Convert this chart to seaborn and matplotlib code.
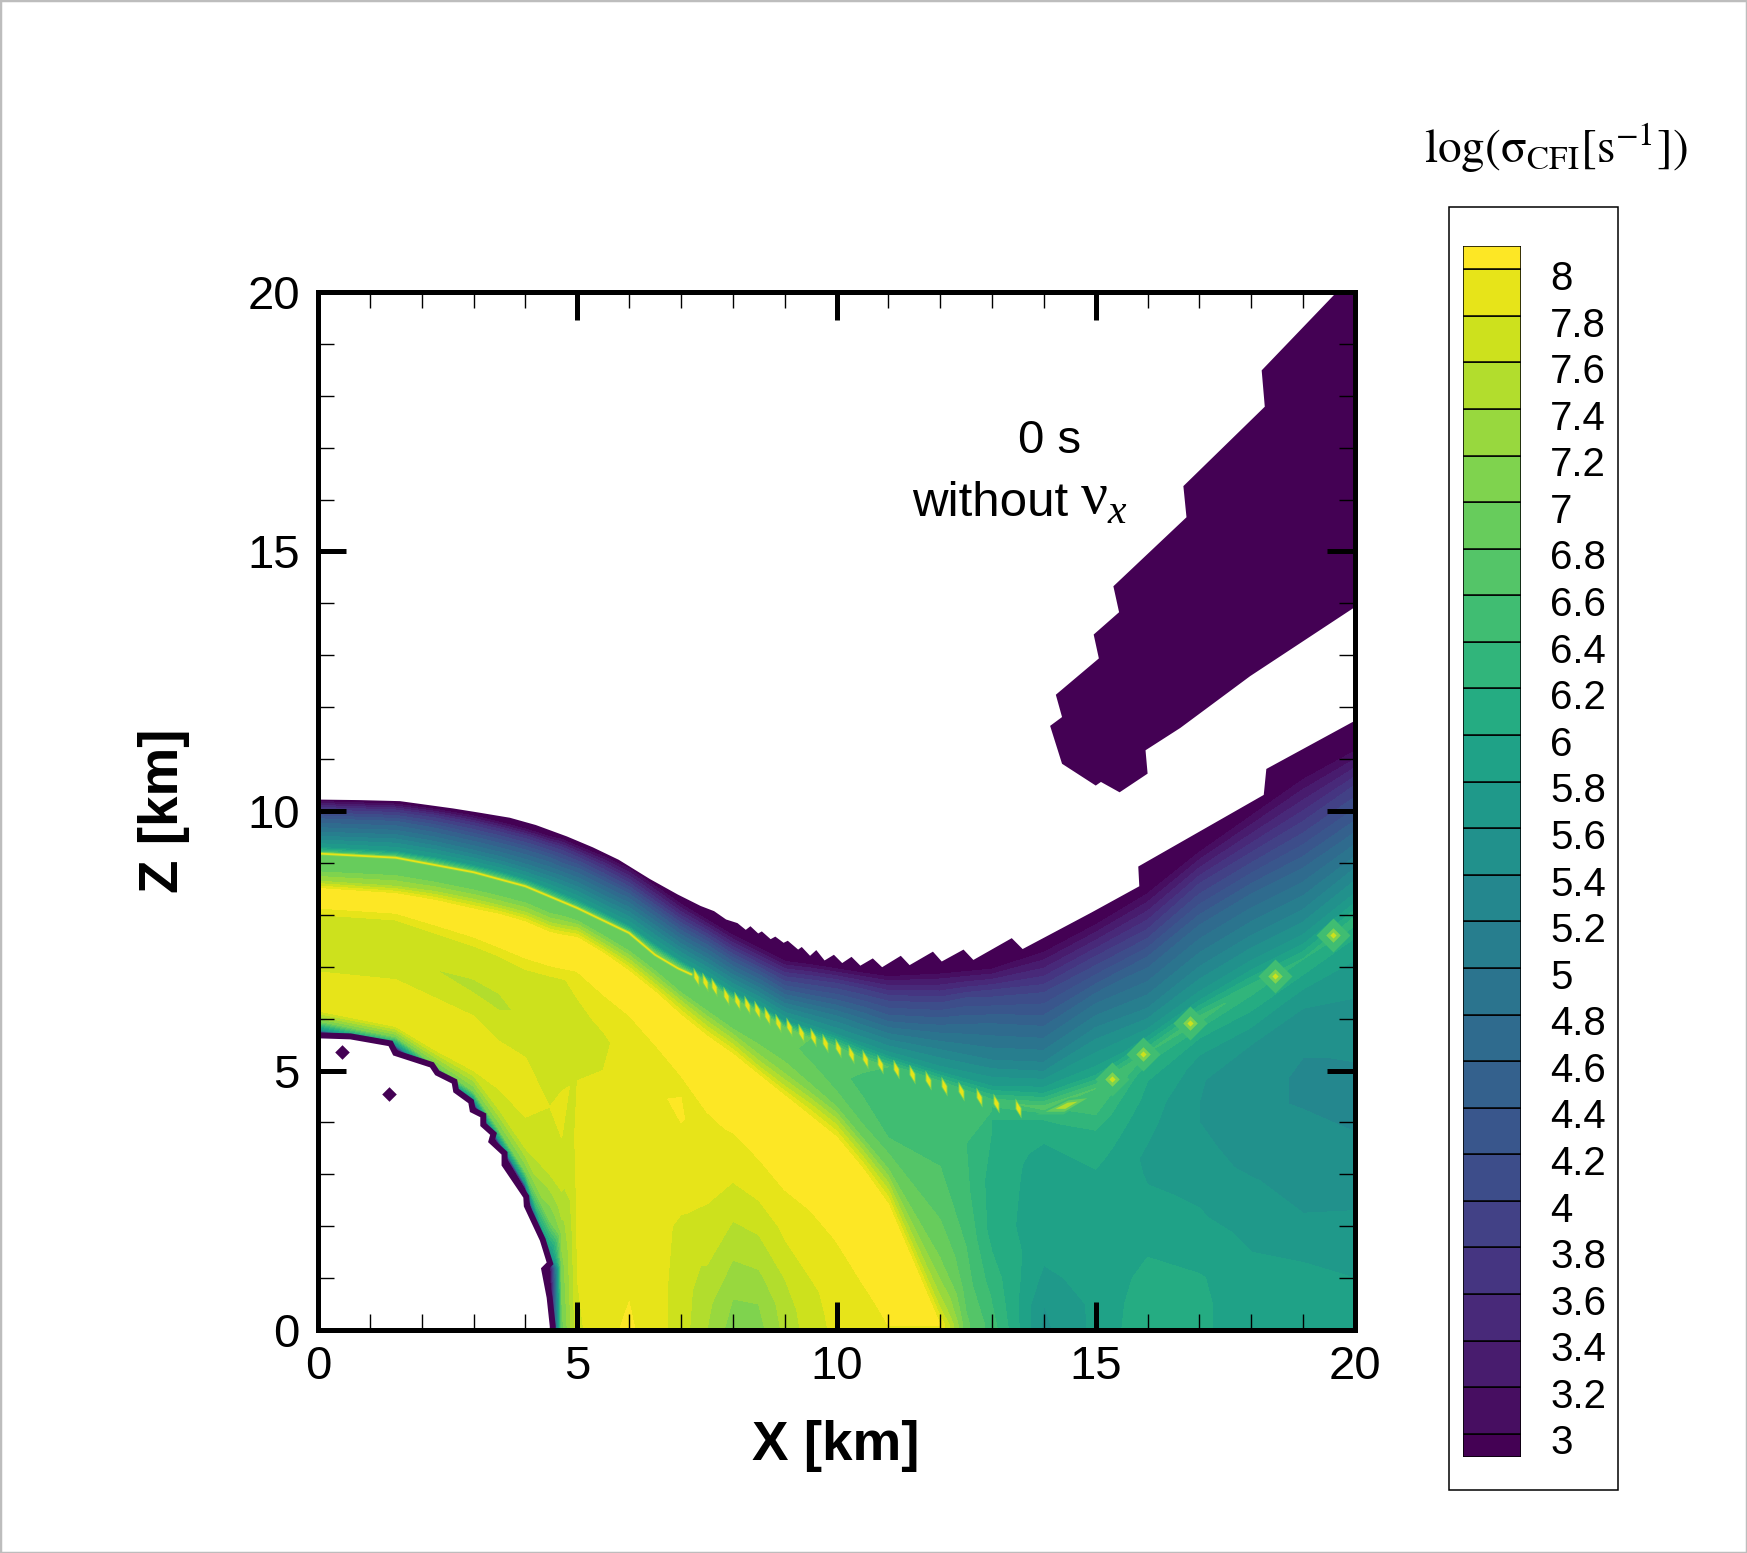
import numpy as np
import matplotlib
matplotlib.use("Agg")
import matplotlib.pyplot as plt
from matplotlib.patches import Rectangle
import seaborn as sns

W, H = 1747, 1553

# contour levels
level_values = [3 + 0.2 * i for i in range(26)]
level_labels = ["3", "3.2", "3.4", "3.6", "3.8", "4", "4.2", "4.4", "4.6", "4.8", "5", "5.2", "5.4",
                "5.6", "5.8", "6", "6.2", "6.4", "6.6", "6.8", "7", "7.2", "7.4", "7.6", "7.8", "8"]

# read-off field, left part: one list per column, rows follow the features of the picture
left_x = [0, 1.5, 2.25, 3, 3.5, 4, 4.47, 4.7, 5, 5.5, 6, 6.5, 7, 7.5, 8, 8.5, 9, 9.5, 10, 10.5, 11, 12, 12.5, 13]
left_z = [
    [5.4,5.72,5.8,5.95,6.15,6.5,6.9,7.5,8.0,8.15,8.5,8.65,8.85,8.95,9.05,9.17,9.3,9.55,9.85,10.05,10.18,10.27,10.7],
    [5.1,5.42,5.5,5.65,5.85,6.3,6.75,7.3,7.9,8.05,8.4,8.55,8.78,8.88,9.0,9.1,9.22,9.5,9.8,10.0,10.13,10.22,10.6],
    [4.6,4.88,4.96,5.12,5.4,5.9,6.4,6.95,7.65,7.83,8.27,8.45,8.65,8.75,8.85,8.98,9.1,9.37,9.67,9.9,10.03,10.13,10.5],
    [4.0,4.35,4.43,4.6,5.0,5.5,6.05,6.6,7.4,7.6,8.1,8.3,8.5,8.6,8.7,8.82,8.95,9.2,9.5,9.75,9.9,10.02,10.4],
    [3.2,3.55,3.65,3.85,4.3,4.8,5.5,6.3,7.2,7.4,8.0,8.18,8.38,8.48,8.58,8.7,8.83,9.08,9.38,9.63,9.78,9.9,10.3],
    [2.3,2.72,2.82,3.05,3.5,4.1,5.0,6.0,6.95,7.2,7.85,8.05,8.25,8.35,8.45,8.55,8.68,8.93,9.25,9.5,9.65,9.77,10.1],
    [0,0.9,1.2,1.5,2.1,3.0,4.3,5.6,6.8,7.05,7.65,7.85,8.05,8.15,8.25,8.35,8.5,8.78,9.1,9.35,9.5,9.62,9.95],
    [0,0.6,1.2,1.9,2.5,3.2,4.2,5.4,6.75,7.0,7.6,7.8,8.0,8.08,8.16,8.25,8.4,8.7,9.0,9.28,9.45,9.55,9.9],
    [0,1,2,3,4,4.8,5.2,5.9,6.7,6.95,7.55,7.75,7.9,7.98,8.05,8.12,8.28,8.58,8.9,9.15,9.32,9.42,9.8],
    [0,1,2,3,4,4.8,5.5,6,6.4,6.5,7.25,7.45,7.62,7.7,7.8,7.9,8.03,8.33,8.65,8.92,9.12,9.22,9.6],
    [0,0.9,2,3,4,5,5.6,5.9,6.05,6.1,6.9,7.1,7.3,7.42,7.54,7.65,7.78,8.1,8.4,8.65,8.88,8.98,9.3],
    [0,0.9,2,3,3.9,4.6,5.1,5.35,5.5,5.55,6.5,6.72,6.92,7.03,7.15,7.27,7.42,7.75,8.05,8.3,8.55,8.66,9.05],
    [0,1,2,2.5,3.5,4.3,4.6,4.8,4.9,5.0,6.05,6.3,6.5,6.65,6.8,6.97,7.1,7.4,7.7,7.95,8.2,8.3,8.7],
    [0,0.5,1,1.5,2,2.6,3.2,3.8,4.2,4.4,5.65,5.9,6.15,6.3,6.5,6.68,6.82,7.12,7.42,7.67,7.9,8.0,8.4],
    [0,0.6,1.35,2.1,2.85,3.5,3.8,3.9,3.95,4.0,5.3,5.55,5.8,5.95,6.15,6.35,6.5,6.8,7.1,7.35,7.6,7.7,8.1],
    [0,0.5,1,1.5,2,2.5,3,3.3,3.45,3.5,4.9,5.1,5.4,5.6,5.85,6.12,6.25,6.55,6.85,7.1,7.35,7.45,7.85],
    [0,0.5,1,1.5,2,2.5,2.7,2.8,2.9,2.95,4.5,4.7,5.0,5.25,5.55,5.82,5.95,6.25,6.55,6.85,7.1,7.2,7.6],
    [0,0.3,0.7,1,1.4,1.8,2.1,2.3,2.4,2.45,4.1,4.35,4.65,4.9,5.3,5.62,5.82,6.15,6.45,6.77,7.03,7.13,7.55],
    [0,0.4,0.8,1.2,1.5,1.7,1.75,1.8,1.85,1.9,3.7,3.95,4.3,4.6,5.0,5.43,5.7,6.05,6.36,6.68,6.95,7.05,7.5],
    [0,0.2,0.4,0.6,0.7,0.8,0.85,0.9,0.95,1.0,3.1,3.35,3.7,4.1,4.7,5.22,5.5,5.85,6.2,6.55,6.87,6.97,7.5],
    [0,0.01,0.02,0.03,0.04,0.05,0.06,0.07,0.08,0.1,2.4,2.7,3.1,3.7,4.4,5.07,5.3,5.65,6.0,6.4,6.8,6.9,7.5],
    [0,0.01,0.02,0.03,0.04,0.05,0.06,0.07,0.08,0.09,0.1,0.5,1.2,2.5,3.8,4.75,5.0,5.4,5.8,6.3,6.85,6.95,7.5],
    [0,0.01,0.02,0.03,0.04,0.05,0.06,0.07,0.08,0.09,0.1,0.8,1.6,2.6,3.6,4.58,4.85,5.3,5.85,6.4,6.9,7.0,7.6],
    [0,0.01,0.02,0.03,0.04,0.05,0.06,0.07,0.08,0.09,0.1,1.0,2,3,3.9,4.4,4.7,5.2,5.9,6.5,6.95,7.1,8.0],
]
left_v = [
    [2.5,2.8,5.6,7.0,7.8,7.88,7.8,7.7,7.8,8.03,8.03,7.4,6.95,6.9,6.9,6.9,5.8,5.1,4.4,3.7,3.02,2.5,2.5],
    [2.5,2.8,5.6,7.0,7.8,7.88,7.8,7.65,7.8,8.03,8.03,7.4,6.95,6.9,6.9,6.9,5.8,5.1,4.4,3.7,3.02,2.5,2.5],
    [2.5,2.8,5.6,7.0,7.8,7.88,7.8,7.6,7.8,8.03,8.03,7.4,6.95,6.9,6.9,6.9,5.8,5.1,4.4,3.7,3.02,2.5,2.5],
    [2.5,2.8,5.6,7.0,7.8,7.88,7.8,7.55,7.8,8.03,8.03,7.4,6.95,6.9,6.9,6.9,5.8,5.1,4.4,3.7,3.02,2.5,2.5],
    [2.5,2.8,5.6,7.0,7.7,7.85,7.82,7.55,7.8,8.03,8.03,7.4,6.95,6.9,6.9,6.9,5.8,5.1,4.4,3.7,3.02,2.5,2.5],
    [2.5,2.8,5.6,7.0,7.6,7.8,7.85,7.65,7.8,8.03,8.03,7.4,6.95,6.9,6.9,6.9,5.8,5.1,4.4,3.7,3.02,2.5,2.5],
    [2.5,2.5,2.8,5.6,7.0,7.6,7.8,7.7,7.78,8.03,8.03,7.4,6.95,6.9,6.9,6.9,5.8,5.1,4.4,3.7,3.02,2.5,2.5],
    [6.9,7.0,7.1,7.3,7.55,7.75,7.85,7.7,7.78,8.03,8.03,7.4,6.95,6.9,6.9,6.9,5.8,5.1,4.4,3.7,3.02,2.5,2.5],
    [7.75,7.8,7.82,7.85,7.85,7.8,7.75,7.72,7.85,8.03,8.03,7.4,6.95,6.9,6.9,6.9,5.8,5.1,4.4,3.7,3.02,2.5,2.5],
    [7.95,7.88,7.85,7.85,7.85,7.82,7.75,7.85,7.95,8.03,8.03,7.4,6.95,6.9,6.9,6.9,5.8,5.1,4.4,3.7,3.02,2.5,2.5],
    [8.03,7.98,7.92,7.9,7.9,7.9,7.92,7.95,7.99,8.03,8.03,7.5,7.0,6.9,6.9,6.9,5.8,5.1,4.4,3.7,3.02,2.5,2.5],
    [7.9,7.88,7.88,7.92,7.95,7.97,7.96,7.98,8.0,8.03,8.03,7.45,7.0,6.9,6.9,6.9,5.8,5.1,4.4,3.7,3.02,2.5,2.5],
    [7.7,7.72,7.76,7.85,7.95,8.03,7.98,7.97,8.0,8.03,8.03,7.5,7.0,6.9,6.9,6.9,5.8,5.1,4.4,3.7,3.02,2.5,2.5],
    [7.4,7.45,7.55,7.65,7.75,7.82,7.9,7.95,8.0,8.03,8.03,7.5,7.0,6.9,6.9,6.9,5.8,5.1,4.4,3.7,3.02,2.5,2.5],
    [7.1,7.2,7.4,7.6,7.8,7.95,8.0,8.02,8.03,8.03,8.03,7.5,7.0,6.9,6.9,6.9,5.8,5.1,4.4,3.7,3.02,2.5,2.5],
    [7.12,7.2,7.35,7.5,7.65,7.8,7.95,8.0,8.02,8.03,8.03,7.55,7.05,6.95,6.9,6.9,5.8,5.1,4.4,3.7,3.02,2.5,2.5],
    [7.45,7.5,7.6,7.75,7.85,7.95,8.0,8.02,8.03,8.03,8.03,7.6,7.1,6.95,6.85,6.85,5.8,5.1,4.4,3.7,3.02,2.5,2.5],
    [7.7,7.72,7.75,7.8,7.85,7.9,7.95,8.0,8.02,8.03,8.03,7.6,7.05,6.9,6.75,6.8,5.7,5.05,4.4,3.75,3.05,2.5,2.5],
    [7.85,7.87,7.9,7.95,7.98,8.0,8.01,8.02,8.03,8.03,8.03,7.6,7.0,6.8,6.65,6.75,5.6,5.0,4.4,3.8,3.05,2.5,2.5],
    [7.9,7.92,7.94,7.96,7.97,7.98,7.99,8.0,8.02,8.03,8.03,7.6,7.0,6.7,6.55,6.65,5.65,5.05,4.45,3.85,3.05,2.5,2.5],
    [7.98,7.98,7.98,7.98,7.98,7.98,7.98,7.98,7.98,8.03,8.03,7.6,7.0,6.6,6.45,6.6,5.7,5.1,4.5,3.9,3.05,2.5,2.5],
    [8.0,8.0,8.0,8.0,8.0,8.0,8.0,8.0,8.0,8.0,8.0,7.5,7.05,6.7,6.5,6.55,5.7,5.2,4.7,4.0,3.05,2.5,2.5],
    [6.85,6.85,6.85,6.85,6.85,6.85,6.85,6.85,6.85,6.85,6.85,6.7,6.6,6.45,6.4,6.5,5.75,5.2,4.65,4.0,3.03,2.5,2.5],
    [6.5,6.5,6.5,6.5,6.5,6.5,6.5,6.5,6.5,6.5,6.5,6.3,6.1,6.1,6.2,6.5,5.8,5.2,4.6,3.9,3.02,2.5,2.5],
]

# read-off field, right part
right_x = [13, 14, 15, 16, 17, 18, 19, 20]
right_z = [
    [0,0.5,1,1.5,2,2.5,3,3.2,3.4,3.6,3.75,3.85,3.95,4.05,4.2,4.4,4.7,5.2,5.9,6.5,6.95,7.1,8.0],
    [0,0.5,1.0,1.5,2,2.5,3.0,3.2,3.4,3.6,3.75,3.85,3.95,4.05,4.15,4.28,4.6,5.1,5.85,6.5,7.27,7.45,8.5],
    [0,0.5,1,1.5,2,2.4,2.8,3.1,3.3,3.5,3.7,3.85,4.0,4.15,4.3,4.65,4.95,5.6,6.4,7.2,7.8,8.0,9.0],
    [0,0.5,1,1.4,1.8,2.2,2.6,3,3.3,3.6,3.9,4.2,4.5,4.8,5.05,5.35,5.7,6.2,7.1,7.9,8.4,8.6,9.6],
    [0,0.5,1,1.3,1.7,2.1,2.6,3,3.5,4,4.4,4.8,5.2,5.5,5.75,6.0,6.4,7,7.8,8.6,9.2,9.35,10.2],
    [0,0.5,1,1.5,2,2.5,2.85,3.2,3.6,4,4.5,5,5.5,6,6.3,6.6,7,7.6,8.4,9.2,9.9,10.05,10.9],
    [0,0.6,1.3,1.7,2,2.5,3,3.5,4,4.5,5,5.5,6,6.5,6.85,7.15,7.5,8.1,8.9,9.8,10.6,10.75,11.6],
    [0,0.5,1,1.7,2.1,2.5,3,3.3,3.7,4.1,4.6,5,6,7,7.5,7.9,8.3,8.9,9.7,10.5,11.15,11.3,12.2],
]
right_v = [
    [6.5,6.4,6.3,6.2,6.1,6.1,6.1,6.1,6.12,6.14,6.16,6.18,6.2,6.2,6.3,6.5,5.8,5.2,4.6,3.9,3.02,2.5,2.5],
    [5.55,5.6,5.75,5.85,5.88,5.9,5.92,5.93,5.95,6.0,6.05,6.1,6.15,6.2,6.3,6.7,5.9,5.25,4.6,4.0,3.02,2.5,2.5],
    [5.85,5.85,5.88,5.9,5.9,5.92,5.95,6.0,6.05,6.1,6.15,6.2,6.3,6.4,6.5,6.6,5.9,5.4,4.7,3.8,3.02,2.5,2.5],
    [6.15,6.12,6.05,6.0,5.9,5.88,5.82,5.78,5.75,5.8,5.85,5.9,5.95,6.0,6.1,6.4,5.7,5.2,4.5,3.6,3.02,2.5,2.5],
    [6.05,6.05,6.02,5.95,5.88,5.82,5.78,5.7,5.65,5.6,5.6,5.62,5.75,5.9,6.1,6.5,5.7,5.2,4.6,3.8,3.02,2.5,2.5],
    [5.85,5.85,5.85,5.8,5.75,5.7,5.62,5.55,5.5,5.45,5.45,5.45,5.6,5.9,6.1,6.3,5.7,5.2,4.6,3.8,3.02,2.5,2.5],
    [5.85,5.85,5.8,5.72,5.65,5.55,5.5,5.45,5.42,5.38,5.38,5.42,5.5,5.75,6.0,6.2,5.7,5.2,4.6,3.8,3.02,2.5,2.5],
    [5.85,5.82,5.8,5.75,5.65,5.55,5.45,5.44,5.42,5.35,5.3,5.38,5.5,5.75,5.95,6.3,5.7,5.2,4.5,3.8,3.02,2.5,2.5],
]

# white area above the outer surface
outer_x = [0,0.8,1.58,2.6,3.1,3.7,4.2,4.8,5.3,5.8,6.4,6.94,7.38,7.64,7.87,8.09,8.25,8.34,8.49,8.56,8.73,8.82,8.98,9.06,9.26,9.33,9.49,9.61,9.77,9.95,10.11,10.29,10.46,10.70,10.88,11.24,11.41,11.86,12.03,12.45,12.64,13.38,13.59,14.91,15.84,15.82,18.24,18.29,20,20,0]
outer_z = [10.22,10.21,10.19,10.05,9.97,9.87,9.73,9.51,9.3,9.06,8.69,8.39,8.17,8.07,7.91,7.84,7.71,7.78,7.64,7.68,7.53,7.58,7.46,7.50,7.33,7.38,7.21,7.32,7.12,7.23,7.07,7.19,7.02,7.16,6.99,7.21,7.03,7.29,7.10,7.33,7.13,7.55,7.34,8.04,8.55,8.93,10.31,10.81,11.74,20,20]

# white core
core_x = [0,0.62,1.36,1.45,2.16,2.26,2.58,2.61,2.9,2.93,3.13,3.13,3.32,3.28,3.54,3.54,3.96,3.97,4.28,4.41,4.3,4.41,4.47,4.47,0]
core_z = [5.62,5.6,5.47,5.29,5.06,4.91,4.75,4.58,4.37,4.2,4.1,3.93,3.76,3.62,3.38,3.17,2.55,2.38,1.72,1.3,1.19,0.62,0.07,0,0]
core_dot_x = [0.46, 1.36]
core_dot_z = [5.35, 4.55]

# detached low region at upper right
blob_x = [19.65,18.2,18.26,16.69,16.75,15.34,15.45,14.96,15.06,14.23,14.35,14.12,14.35,15.0,15.1,15.46,16.0,15.96,16.63,17.98,20,20]
blob_z = [20,18.49,17.79,16.26,15.66,14.33,13.83,13.40,12.94,12.24,11.81,11.64,10.91,10.49,10.56,10.36,10.72,11.17,11.60,12.6,13.93,20]

# thin bright ridge
ridge_x = [0, 1.5, 3, 4, 5, 6, 6.5, 6.94, 7.2]
ridge_z = [9.18, 9.1, 8.82, 8.55, 8.13, 7.65, 7.23, 6.97, 6.85]
spot_x = [7.29,7.47,7.64,7.87,8.09,8.27,8.46,8.66,8.87,9.09,9.31,9.55,9.77,10.02,10.28,10.55,10.84,11.15,11.46,11.77,12.08,12.41,12.74,13.08,13.5]
spot_z = [6.81,6.70,6.60,6.44,6.33,6.27,6.17,6.05,5.91,5.83,5.73,5.64,5.53,5.43,5.32,5.22,5.12,5.02,4.93,4.82,4.71,4.61,4.49,4.37,4.27]
knot_x = [15.31, 15.92, 16.82, 18.46, 19.57]
knot_z = [4.84, 5.32, 5.91, 6.83, 7.62]
knot_long_x = [14.43]
knot_long_z = [4.34]

sns.set_theme(style="white")
plt.rcParams["font.family"] = ["Liberation Sans", "DejaVu Sans"]

viridis = sns.color_palette("viridis", as_cmap=True)
band_colors = [viridis(i / 26) for i in range(27)]
level_edges = [2.0] + level_values + [10.0]


def band(v):
    return band_colors[int(np.searchsorted(level_values, v))]


def fx(px):
    return px / W


def fy(py):
    return 1 - py / H


fig = plt.figure(figsize=(W / 100, H / 100), dpi=100, facecolor="white")
ax = fig.add_axes([fx(318), fy(1330), 1037 / W, 1038 / H])

for cols, zs, vs in [(left_x, left_z, left_v), (right_x, right_z, right_v)]:
    X = np.tile(np.array(cols, float)[:, None], (1, len(zs[0])))
    ax.contourf(X, np.array(zs), np.array(vs), levels=level_edges, colors=band_colors, zorder=1)

ax.fill(outer_x, outer_z, color="white", lw=0, zorder=1.5)
ax.plot(core_x[:24], core_z[:24], color=band(2.5), lw=8.6, zorder=1.45, solid_joinstyle="miter")
ax.fill(core_x, core_z, color="white", lw=0, zorder=1.5)
ax.fill(blob_x, blob_z, color=band(2.5), lw=0, zorder=1.6)
ax.scatter(core_dot_x, core_dot_z, marker="D", s=55, color=band(2.5), lw=0, zorder=1.6)

# ridge and knots
ax.plot(ridge_x, ridge_z, color=band(7.1), lw=2.6, zorder=1.7, solid_capstyle="round")
ax.plot(ridge_x, ridge_z, color=band(7.9), lw=1.3, zorder=1.71, solid_capstyle="round")
slim = [(-0.3, 1), (0.3, 0.05), (0.3, -1), (-0.3, -0.05)]
ax.scatter(spot_x, spot_z, marker=slim, s=210, color=band(7.1), lw=0, zorder=1.7)
ax.scatter(spot_x, spot_z, marker=slim, s=100, color=band(7.9), lw=0, zorder=1.71)
for size, v in [(300, 6.5), (55, 7.1), (10, 7.8)]:
    ax.scatter(knot_x, knot_z, marker="D", s=size, color=band(v), lw=0, zorder=1.7)
wide = [(-1, -0.3), (0.1, 0.25), (1, 0.35), (-0.1, -0.3)]
for size, v in [(1870, 6.5), (900, 7.0), (256, 7.5)]:
    ax.scatter(knot_long_x, knot_long_z, marker=wide, s=size, color=band(v), lw=0, zorder=1.7)

ax.set_xlim(0, 20)
ax.set_ylim(0, 20)
for side in ax.spines.values():
    side.set_linewidth(3.6)
    side.set_color("black")
ax.set_xticks([0, 5, 10, 15, 20])
ax.set_yticks([0, 5, 10, 15, 20])
ax.set_xticks(range(0, 21), minor=True)
ax.set_yticks(range(0, 21), minor=True)
ax.tick_params(which="major", direction="in", length=20, width=3.6, top=True, right=True,
               bottom=True, left=True, labelsize=34, color="black", labelcolor="black")
ax.tick_params(axis="x", which="major", pad=11)
ax.tick_params(axis="y", which="major", pad=13)
ax.tick_params(which="minor", direction="in", length=11.5, width=1.0, top=True, right=True,
               bottom=True, left=True, color="black")
ax.set_axisbelow(False)

fig.text(fx(836), fy(1446), "X [km]", ha="center", va="center", fontsize=39.4, fontweight="bold", color="black")
fig.text(fx(164), fy(811), "Z [km]", ha="center", va="center", rotation=90, fontsize=39.4, fontweight="bold", color="black")
fig.text(fx(1050), fy(441), "0 s", ha="center", va="center", fontsize=34, color="black")
fig.text(fx(912), fy(516), "without", ha="left", va="baseline", fontsize=35.5, color="black")
fig.text(fx(1081), fy(513), "\u03bd", ha="left", va="baseline", fontsize=43, color="black", family="Liberation Serif")
fig.text(fx(1108), fy(523), "x", ha="left", va="baseline", fontsize=30, style="italic", color="black", family="Liberation Serif")

# legend
fig.add_artist(Rectangle((fx(1449), fy(1490)), 169 / W, 1283 / H, transform=fig.transFigure,
                         fill=False, ec="black", lw=1.1))
fig.text(fx(1424), fy(163), r"$\mathrm{log(\sigma_{CFI}[s^{-1}])}$", ha="left", va="baseline",
         fontsize=34, color="black", math_fontfamily="stix")
cax = fig.add_axes([fx(1463), fy(1457), 58 / W, 1211 / H])
edges = [2.9] + level_values + [8.1]
cax.bar([0] * 27, np.diff(edges), bottom=edges[:-1], width=1, color=band_colors, edgecolor="black", lw=1.1)
cax.set_xlim(-0.5, 0.5)
cax.set_ylim(2.9, 8.1)
cax.set_xticks([])
cax.set_yticks([])
for side in cax.spines.values():
    side.set_visible(False)
for value, label in zip(level_values, level_labels):
    cax.annotate(label, xy=(0.5, value), xytext=(21, -7), textcoords="offset points",
                 ha="left", va="center", fontsize=29, color="black", annotation_clip=False)

fig.add_artist(Rectangle((0, 0), 1, 1, transform=fig.transFigure, fill=False, ec="#bdbdbd", lw=2.5))
fig.savefig("out.png", dpi=100, facecolor="white")
